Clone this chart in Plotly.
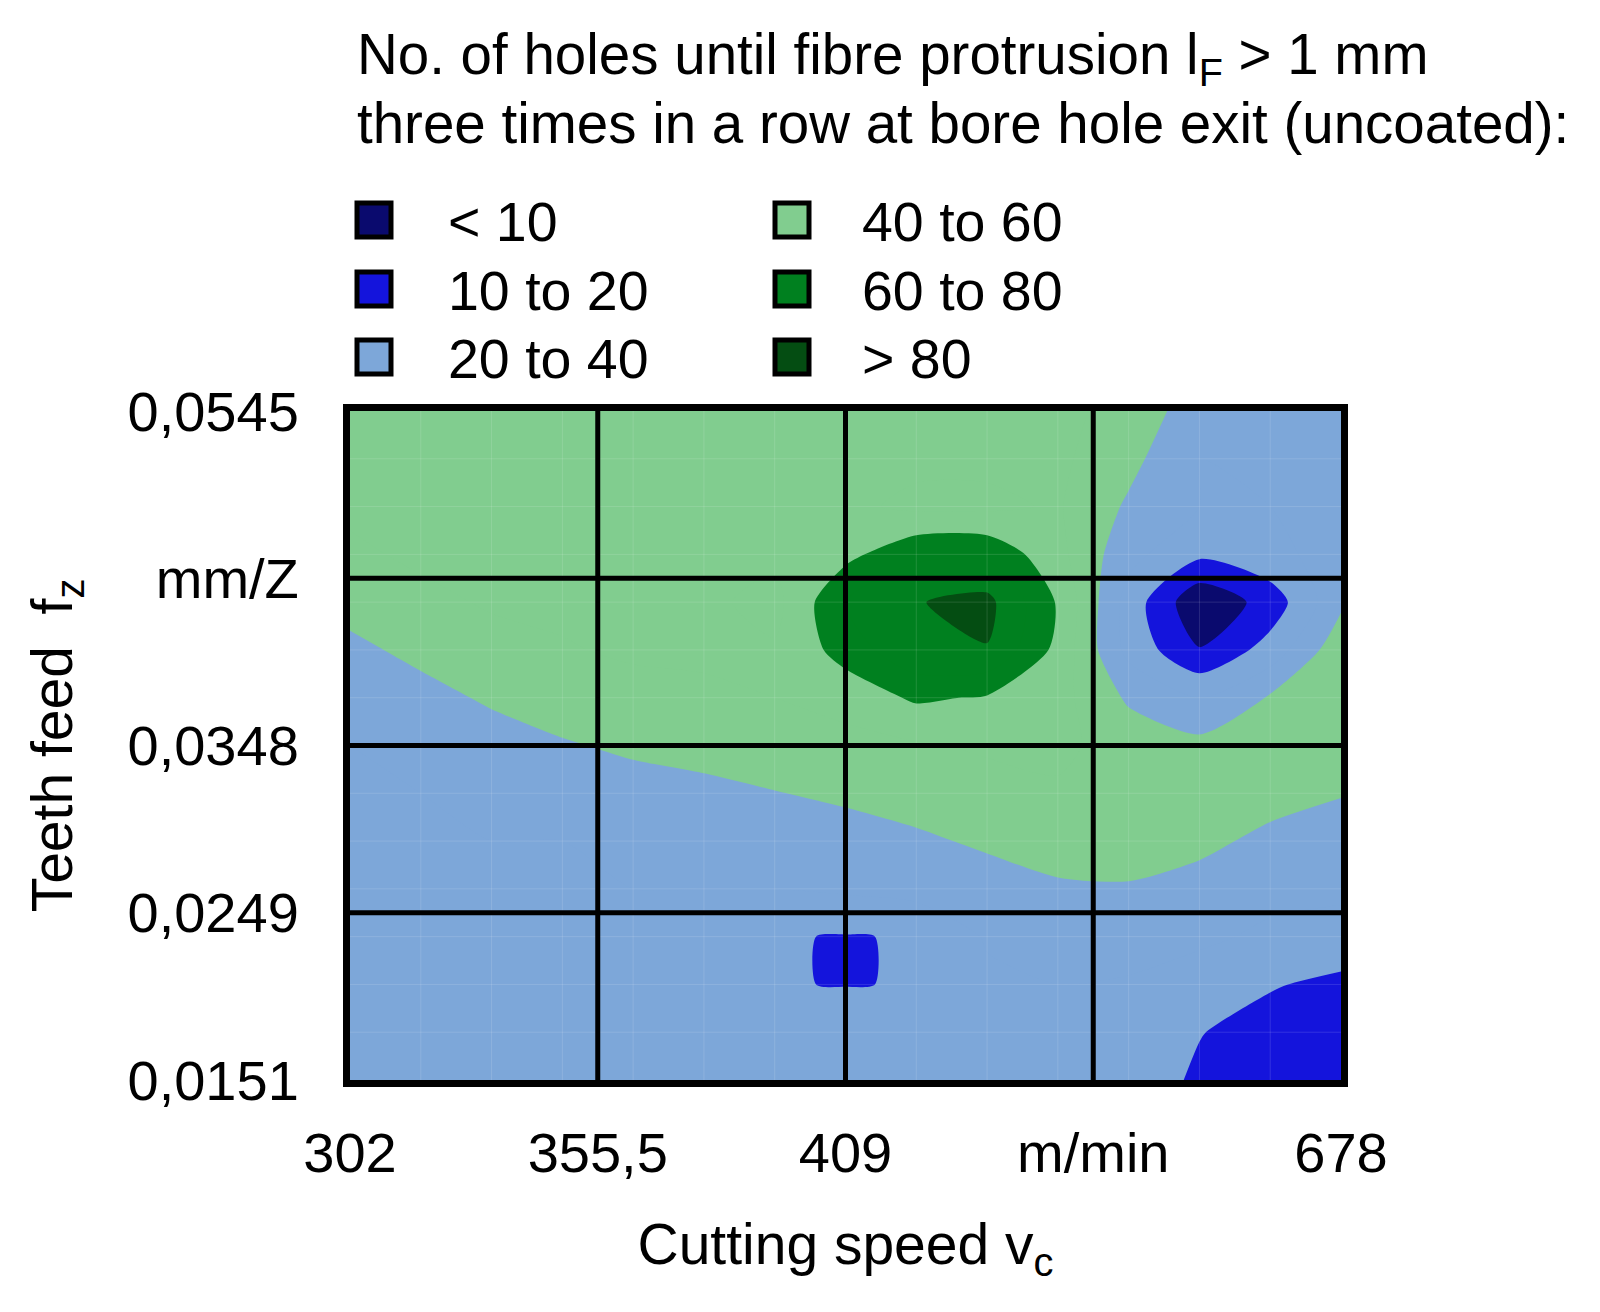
import plotly.graph_objects as go

# ---------------- data ----------------
# grid nodes (index positions along the two test-parameter axes)
x_nodes = list(range(15))
y_nodes = list(range(15))

# No. of holes until fibre protrusion, rows listed from top (highest feed) to bottom
holes_top_down = [
    [52, 52, 52, 52, 52, 52, 52, 52, 52, 52, 53, 46, 35, 33, 34],
    [52, 52, 52, 52, 52, 52, 52, 52, 52, 52, 52, 43, 30, 31, 33],
    [52, 52, 52, 52, 52, 52, 52, 52, 48, 48, 51, 38.5, 30, 30, 33],
    [48, 52, 52, 52, 52, 52, 52, 57, 68, 68, 53, 33, 22, 28, 33],
    [43, 47.2, 51.2, 52, 52, 52, 47, 70, 79.5, 83, 59, 26, 2, 14, 38],
    [38, 42.2, 46.2, 49.2, 51.5, 52, 51, 64, 78.5, 79.5, 57, 27, 10.5, 24, 47],
    [33, 37.2, 41.2, 44.2, 46.5, 47.9, 50, 54, 61.5, 59, 53.5, 38.5, 30, 41, 50],
    [30, 32.2, 36.2, 39.2, 41.5, 42.9, 44.7, 46.5, 49, 51.3, 52, 46, 43, 47, 45.5],
    [30, 30, 31.2, 34.2, 36.5, 37.9, 39.7, 41.5, 43.6, 46.3, 48.8, 48, 46, 43, 40.5],
    [30, 30, 30, 30, 31.5, 32.9, 34.7, 36.5, 38.6, 41.3, 43.8, 44.2, 42, 38, 35.5],
    [30, 30, 30, 30, 30, 30, 30, 31.5, 33.6, 36.3, 38.8, 39.2, 37, 33, 31],
    [30, 30, 30, 30, 30, 28, 20.7, 19.5, 20.7, 31, 33.8, 34.2, 32, 28, 28],
    [30, 30, 30, 30, 30, 28, 20.7, 19.5, 20.7, 28, 30, 29, 25, 21, 17],
    [30, 30, 30, 30, 30, 30, 28, 30, 28, 30, 30, 28, 20.5, 15, 13],
    [30, 30, 30, 30, 30, 30, 30, 30, 30, 30, 30, 27, 18, 14, 12],
]
holes = holes_top_down[::-1]

x_tick_pos = [0, 3.5, 7, 10.5, 14]
x_tick_text = ["302", "355,5", "409", "m/min", "678"]
y_tick_pos = [0, 3.5, 7, 10.5, 14]
y_tick_text = ["0,0151", "0,0249", "0,0348", "mm/Z", "0,0545"]

band_labels = ["&lt; 10", "10 to 20", "20 to 40", "40 to 60", "60 to 80", "&gt; 80"]
band_colors = ["#0a0a6e", "#1414dc", "#7da7d9", "#81cd8f", "#00801f", "#044d12"]

# ---------------- styling helpers ----------------
FONT = "Liberation Sans, Arial, sans-serif"
FS_TICK = 56
FS_TITLE = 57
FS_HEAD = 56.5
FS_LEG = 55.5
L, R, T, B = 350, 1341, 411, 1080  # plot area in target pixels
W, H = 1600, 1312
PAGE = 8  # default page margin of the html body


def px(X):
    return (X - L) / (R - L)


def py(Y):
    return (B - Y) / (B - T)


# discrete colour scale: bands of size 10 from 10 to 80 (9 bands)
band_of_step = [0, 1, 2, 2, 3, 3, 4, 4, 5]
colorscale = []
for k, b in enumerate(band_of_step):
    lo = max(0.0, (k - 0.5) / 8)
    hi = min(1.0, (k + 0.5) / 8)
    colorscale.append([lo, band_colors[b]])
    colorscale.append([hi, band_colors[b]])

fig = go.Figure()
fig.add_trace(go.Contour(
    x=x_nodes, y=y_nodes, z=holes,
    autocontour=False,
    contours=dict(start=10, end=80, size=10, coloring="fill", showlines=False),
    line=dict(width=0, smoothing=0.7),
    colorscale=colorscale,
    showscale=False,
    hoverinfo="skip",
))

shapes = []
# faint node lines (visible seams of the data grid)
for xv in x_nodes[1:-1]:
    shapes.append(dict(type="line", xref="x", yref="y", x0=xv, x1=xv, y0=y_nodes[0], y1=y_nodes[-1],
                       line=dict(color="rgba(255,255,255,0.13)", width=1), layer="above"))
for yv in y_nodes[1:-1]:
    shapes.append(dict(type="line", xref="x", yref="y", y0=yv, y1=yv, x0=x_nodes[0], x1=x_nodes[-1],
                       line=dict(color="rgba(255,255,255,0.13)", width=1), layer="above"))
# main grid
for xv in x_tick_pos[1:-1]:
    shapes.append(dict(type="line", xref="x", yref="y", x0=xv, x1=xv, y0=y_nodes[0], y1=y_nodes[-1],
                       line=dict(color="black", width=5), layer="above"))
for yv in y_tick_pos[1:-1]:
    shapes.append(dict(type="line", xref="x", yref="y", y0=yv, y1=yv, x0=x_nodes[0], x1=x_nodes[-1],
                       line=dict(color="black", width=5), layer="above"))

annotations = []
# legend (two columns of three)
col_sq_x = [357, 775]
col_txt_x = [446, 860]
row_y = [220, 289, 357]
SQ = 34
for n, (lab, col) in enumerate(zip(band_labels, band_colors)):
    c, r = divmod(n, 3)
    x0 = col_sq_x[c]
    yc = row_y[r]
    shapes.append(dict(type="rect", xref="paper", yref="paper",
                       x0=px(x0), x1=px(x0 + SQ), y0=py(yc + SQ / 2), y1=py(yc - SQ / 2),
                       fillcolor=col, line=dict(color="black", width=5)))
    annotations.append(dict(xref="paper", yref="paper", x=px(col_txt_x[c]), y=py(yc + 2),
                            xanchor="left", yanchor="middle", showarrow=False, text=lab,
                            font=dict(family=FONT, size=FS_LEG, color="black")))

# heading
annotations.append(dict(xref="paper", yref="paper", x=px(355), y=py(58), xanchor="left", yanchor="middle",
                        showarrow=False,
                        text="No. of holes until fibre protrusion l<sub>F</sub> &gt; 1 mm",
                        font=dict(family=FONT, size=FS_HEAD, color="black")))
annotations.append(dict(xref="paper", yref="paper", x=px(355), y=py(123), xanchor="left", yanchor="middle",
                        showarrow=False,
                        text="three times in a row at bore hole exit (uncoated):",
                        font=dict(family=FONT, size=FS_HEAD, color="black")))

axis_common = dict(
    showgrid=False, zeroline=False, showline=True, linewidth=7, linecolor="black", mirror=True,
    ticks="", layer="above traces",
    tickfont=dict(family=FONT, size=FS_TICK, color="black"),
)

fig.update_layout(
    width=W, height=H,
    margin=dict(l=L - PAGE, r=W - R + PAGE, t=T - PAGE, b=H - B + PAGE, pad=0),
    paper_bgcolor="white", plot_bgcolor="white",
    font=dict(family=FONT, size=FS_TICK, color="black"),
    showlegend=False,
    xaxis=dict(range=[x_nodes[0], x_nodes[-1]], tickvals=x_tick_pos, ticktext=x_tick_text,
               ticklabelstandoff=18,
               title=dict(text="Cutting speed v<sub>c</sub>", standoff=43,
                          font=dict(family=FONT, size=FS_TITLE, color="black")),
               **axis_common),
    yaxis=dict(range=[y_nodes[0], y_nodes[-1]], tickvals=y_tick_pos, ticktext=y_tick_text,
               ticklabelstandoff=33,
               title=dict(text="Teeth feed  f<sub>z</sub>", standoff=39,
                          font=dict(family=FONT, size=FS_TITLE, color="black")),
               **axis_common),
    shapes=shapes,
    annotations=annotations,
)

fig.write_html("out.html")
